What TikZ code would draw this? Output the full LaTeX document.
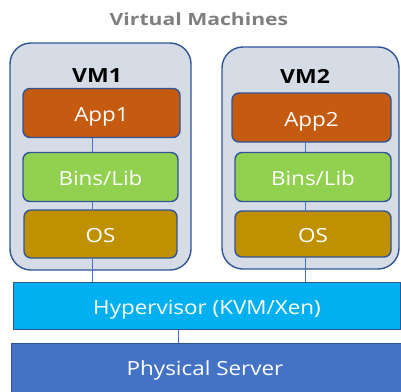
\documentclass[tikz,border=0pt]{standalone}
\usepackage{fontspec}
\setmainfont{Open Sans}
\usepackage{graphicx}
\usepackage{tikz}
\usepackage{xcolor}
\usetikzlibrary{positioning}
\definecolor{VM_Fill}{HTML}{D6DCE5}
\definecolor{VM_Edge}{HTML}{2F5597}
\definecolor{App_Orange}{HTML}{C55A11}
\definecolor{Bins_Green}{HTML}{92D050}
\definecolor{OS_Gold}{HTML}{BF9000}
\definecolor{Hyper_Cyan}{HTML}{00B0F0}
\definecolor{Server_Blue}{HTML}{4472C4}
\definecolor{Title_Gray}{HTML}{7F7F7F}
\newcommand{\widetext}[2][1.15]{\scalebox{#1}[1]{#2}}

\begin{document}
\begin{tikzpicture}[x=1pt, y=-1pt,
    vmbox/.style={draw=VM_Edge, line width=1.4pt, fill=VM_Fill, rounded corners=21pt,
        minimum width=181pt, minimum height=227pt, inner sep=0pt},
    layer/.style={draw=VM_Edge, line width=1.4pt, rounded corners=7pt, text=white,
        minimum width=157pt, minimum height=49pt, inner sep=0pt,
        text height=17pt, text depth=0pt, font=\fontsize{19.5}{23}\selectfont},
    base/.style={draw=VM_Edge, line width=1.2pt, inner sep=0pt, minimum width=387pt},
    basetext/.style={text=white, inner sep=0pt, text height=17pt, text depth=0pt,
        font=\fontsize{19.5}{23}\selectfont},
    vmtext/.style={inner sep=0pt, text height=17pt, text depth=0pt,
        font=\bfseries\fontsize{19.5}{23}\selectfont},
    link/.style={draw=Server_Blue, line width=0.8pt}]
    \useasboundingbox (0,0) rectangle (401,391);
    \clip (0,0) rectangle (401,391);

    % Title
    \node[font=\bfseries\fontsize{16.8}{20}\selectfont, Title_Gray] (title) at (199,19) {\widetext[1.26]{Virtual Machines}};

    % Virtual machines
    \node[vmbox] (vmone) at (100.5,156.5) {};
    \node[vmbox, minimum width=177pt, minimum height=222pt] (vmtwo) at (310.5,158) {};
    \node[vmtext] (vmonelabel) at (97,73.5) {\widetext[1.18]{VM1}};
    \node[vmtext] (vmtwolabel) at (305,74.5) {\widetext[1.18]{VM2}};

    % Stacks inside VM1
    \node[layer, fill=App_Orange] (appone) at (101.5,113) {\widetext{App1}};
    \node[layer, fill=Bins_Green, minimum width=155pt] (binsone) at (100.5,177) {\widetext{Bins/Lib}};
    \node[layer, fill=OS_Gold, minimum width=153pt, minimum height=48pt] (osone) at (100.5,234) {\widetext{OS}};

    % Stacks inside VM2
    \node[layer, fill=App_Orange, minimum width=159pt] (apptwo) at (311.5,117.5) {\widetext{App2}};
    \node[layer, fill=Bins_Green, minimum width=156pt] (binstwo) at (313,177) {\widetext{Bins/Lib}};
    \node[layer, fill=OS_Gold, minimum width=156pt, minimum height=46pt] (ostwo) at (313,234) {\widetext{OS}};

    % Hypervisor and server
    \node[base, fill=Hyper_Cyan, minimum height=47pt, anchor=north west] (hyper) at (13,282) {};
    \node[basetext] (hyperlabel) at (207,305.5) {\widetext{Hypervisor (KVM/Xen)}};
    \node[base, fill=Server_Blue, minimum width=400pt, minimum height=60pt, anchor=north west] (server) at (11,343) {};
    \node[basetext] (serverlabel) at (205,366.5) {\widetext{Physical Server}};

    % Connectors
    \coordinate (lineone) at (92,0);
    \coordinate (linetwo) at (305,0);
    \coordinate (linethree) at (178,0);
    \draw[link] (appone.south -| lineone) -- (binsone.north -| lineone);
    \draw[link] (binsone.south -| lineone) -- (osone.north -| lineone);
    \draw[link] (osone.south -| lineone) -- (hyper.north -| lineone);
    \draw[link] (apptwo.south -| linetwo) -- (binstwo.north -| linetwo);
    \draw[link] (binstwo.south -| linetwo) -- (ostwo.north -| linetwo);
    \draw[link] (ostwo.south -| linetwo) -- (hyper.north -| linetwo);
    \draw[link] (hyper.south -| linethree) -- (server.north -| linethree);

\end{tikzpicture}
\end{document}
